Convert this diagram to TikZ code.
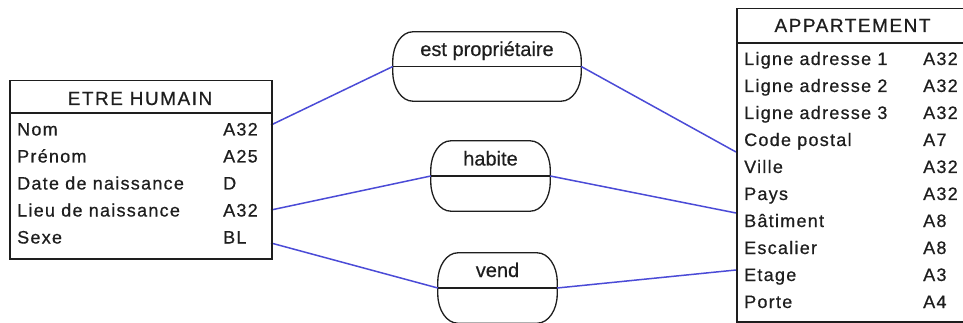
\documentclass[tikz,border=0pt]{standalone}
\usepackage{fontspec}
\newfontfamily\entfont[LetterSpace=7,FakeBold=0.6]{Liberation Sans}
\newfontfamily\hdrfont[LetterSpace=8,FakeBold=0.6]{Liberation Sans}
\newfontfamily\relfont[FakeBold=0.4]{Liberation Sans}
\definecolor{linkblue}{RGB}{75,75,215}
\definecolor{ink}{RGB}{30,30,30}
\newcommand{\relshape}[1]{%
  \draw[relbd] ([xshift=20pt]#1.north west) -- ([xshift=-20pt]#1.north east)
    arc[start angle=90,end angle=0,x radius=20pt,y radius=29pt]
    -- ([yshift=29pt]#1.south east)
    arc[start angle=0,end angle=-90,x radius=20pt,y radius=29pt]
    -- ([xshift=20pt]#1.south west)
    arc[start angle=270,end angle=180,x radius=20pt,y radius=29pt]
    -- ([yshift=-29pt]#1.north west)
    arc[start angle=180,end angle=90,x radius=20pt,y radius=29pt] -- cycle;}
\begin{document}
\begin{tikzpicture}[x=1pt,y=-1pt,
  ent/.style={draw=ink, line width=1.5pt, inner sep=0pt, anchor=north west},
  rel/.style={inner sep=0pt},
  relbd/.style={draw=ink, line width=1.3pt, fill=white},
  sepline/.style={draw=ink, line width=1.8pt},
  midline/.style={draw=ink, line width=1.3pt},
  fld/.style={anchor=base west, inner sep=0pt, font=\entfont\fontsize{18}{20}\selectfont, text=ink},
  hdr/.style={anchor=base, inner sep=0pt, font=\hdrfont\fontsize{19}{21}\selectfont, text=ink},
  rlab/.style={anchor=base, inner sep=0pt, font=\relfont\fontsize{20}{22}\selectfont, text=ink},
  link/.style={draw=linkblue, line width=1.5pt}]
\clip (0,0) rectangle (963,323);
\fill[white] (0,0) rectangle (963,323);

% connector end points on the entity boxes
\coordinate (ehNom) at (271,125);
\coordinate (ehLieu) at (271,210);
\coordinate (ehSexe) at (271,243);
\coordinate (apVille) at (736,152);
\coordinate (apBat) at (736,213);
\coordinate (apEtage) at (736,270);

% relationships
\node[rel, minimum width=188pt, minimum height=69pt] (est) at (487,66.5) {};
\node[rel, minimum width=119pt, minimum height=70pt] (hab) at (490.5,176) {};
\node[rel, minimum width=119pt, minimum height=70pt] (vend) at (497.5,288) {};
\relshape{est}
\relshape{hab}
\relshape{vend}

% connectors
\draw[link] (ehNom) -- (est.west);
\draw[link] (est.east) -- (apVille);
\draw[link] (ehLieu) -- (hab.west);
\draw[link] (hab.east) -- (apBat);
\draw[link] (ehSexe) -- (vend.west);
\draw[link] (vend.east) -- (apEtage);

\draw[midline] (est.west) -- (est.east);
\draw[midline] (hab.west) -- (hab.east);
\draw[midline] (vend.west) -- (vend.east);
\node[rlab] (estL) at (487,56) {est propriétaire};
\node[rlab] (habL) at (490.5,165.5) {habite};
\node[rlab] (vendL) at (497.5,277) {vend};

% ETRE HUMAIN
\node[ent, minimum width=262pt, minimum height=178pt] (eh) at (9,80) {};
\draw[sepline] (9,113) -- (271,113);
\node[hdr] (ehT) at (140,105) {ETRE HUMAIN};
\node[fld] (f1) at (17,135.5) {Nom};
\node[fld] (t1) at (223,135.5) {A32};
\node[fld] (f2) at (17,162.5) {Prénom};
\node[fld] (t2) at (223,162.5) {A25};
\node[fld] (f3) at (17,189.5) {Date de naissance};
\node[fld] (t3) at (223,189.5) {D};
\node[fld] (f4) at (17,216.5) {Lieu de naissance};
\node[fld] (t4) at (223,216.5) {A32};
\node[fld] (f5) at (17,243.5) {Sexe};
\node[fld] (t5) at (223,243.5) {BL};

% APPARTEMENT
\node[ent, minimum width=250pt, minimum height=313pt] (ap) at (736,8) {};
\draw[sepline] (736,43) -- (990,43);
\node[hdr] (apT) at (852.5,32) {APPARTEMENT};
\node[fld] (g1) at (744,65) {Ligne adresse 1};
\node[fld] (u1) at (923,65) {A32};
\node[fld] (g2) at (744,92) {Ligne adresse 2};
\node[fld] (u2) at (923,92) {A32};
\node[fld] (g3) at (744,119) {Ligne adresse 3};
\node[fld] (u3) at (923,119) {A32};
\node[fld] (g4) at (744,146) {Code postal};
\node[fld] (u4) at (923,146) {A7};
\node[fld] (g5) at (744,173) {Ville};
\node[fld] (u5) at (923,173) {A32};
\node[fld] (g6) at (744,200) {Pays};
\node[fld] (u6) at (923,200) {A32};
\node[fld] (g7) at (744,227) {Bâtiment};
\node[fld] (u7) at (923,227) {A8};
\node[fld] (g8) at (744,254) {Escalier};
\node[fld] (u8) at (923,254) {A8};
\node[fld] (g9) at (744,281) {Etage};
\node[fld] (u9) at (923,281) {A3};
\node[fld] (g10) at (744,308) {Porte};
\node[fld] (u10) at (923,308) {A4};
\end{tikzpicture}
\end{document}
